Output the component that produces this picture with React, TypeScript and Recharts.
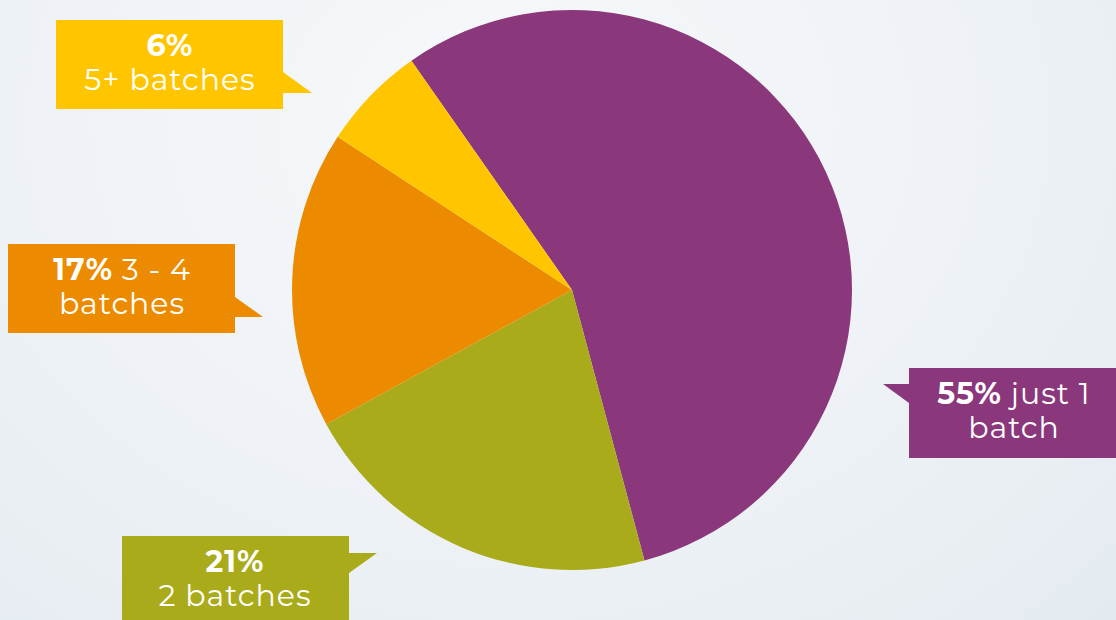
import React from 'react';
import { PieChart, Pie, Cell } from 'recharts';

// batch counts share
const categories = ['just 1 batch', '2 batches', '3 - 4 batches', '5+ batches'];
const shares = [55, 21, 17, 6];
const colors = ['#8a387b', '#a9ab1a', '#ec8b00', '#ffc600'];

// callout text lines (first line starts with bold percent)
const labelLines = [
  ['just 1', 'batch'],
  ['', '2 batches'],
  ['3 - 4', 'batches'],
  ['', '5+ batches'],
];

// callout boxes: x, y, w, h and pointer triangle
const callouts = [
  { x: 909, y: 368, w: 220, h: 90, cx: 1014, pointer: '909,384 883,384 909,403' },
  { x: 122, y: 536, w: 227, h: 100, cx: 235, pointer: '349,553 377,553 349,573' },
  { x: 8, y: 244, w: 227, h: 89, cx: 122, pointer: '235,297 263,317 235,317' },
  { x: 56, y: 20, w: 227, h: 89, cx: 170, pointer: '283,72 312,93 283,93' },
];

const data = categories.map((name, i) => ({ name, value: shares[i] }));

const FONT = 'Montserrat, "Open Sans", sans-serif';

const CalloutLabel = (props: any) => {
  const i = props.index;
  const c = callouts[i];
  const [first, second] = labelLines[i];
  const pct = `${shares[i]}%`;
  return (
    <g>
      <rect x={c.x} y={c.y} width={c.w} height={c.h} fill={colors[i]} />
      <polygon points={c.pointer} fill={colors[i]} />
      <text x={c.cx} y={c.y + 36} textAnchor="middle" fill="#ffffff" fontFamily={FONT} fontSize={30} letterSpacing={1}>
        <tspan fontWeight={700}>{pct}</tspan>
        {first ? <tspan fontWeight={400}>{' ' + first}</tspan> : null}
      </text>
      <text x={c.cx} y={c.y + 70} textAnchor="middle" fill="#ffffff" fontFamily={FONT} fontSize={30} letterSpacing={1}>
        {second}
      </text>
    </g>
  );
};

export default function App() {
  return (
    <div
      style={{
        position: 'absolute',
        left: 0,
        top: 0,
        width: 1116,
        height: 620,
        overflow: 'hidden',
        background:
          'radial-gradient(ellipse at 45% 20%, #f7f9fb 0%, #eef2f6 55%, #e4ebf0 100%)',
      }}
    >
      <PieChart width={1116} height={620} margin={{ top: 0, right: 0, bottom: 0, left: 0 }}>
        <Pie
          data={data}
          dataKey="value"
          cx={572}
          cy={290}
          innerRadius={0}
          outerRadius={280}
          startAngle={125}
          endAngle={-235}
          stroke="none"
          label={CalloutLabel}
          labelLine={false}
          isAnimationActive={false}
        >
          {data.map((d, i) => (
            <Cell key={d.name} fill={colors[i]} />
          ))}
        </Pie>
      </PieChart>
    </div>
  );
}
